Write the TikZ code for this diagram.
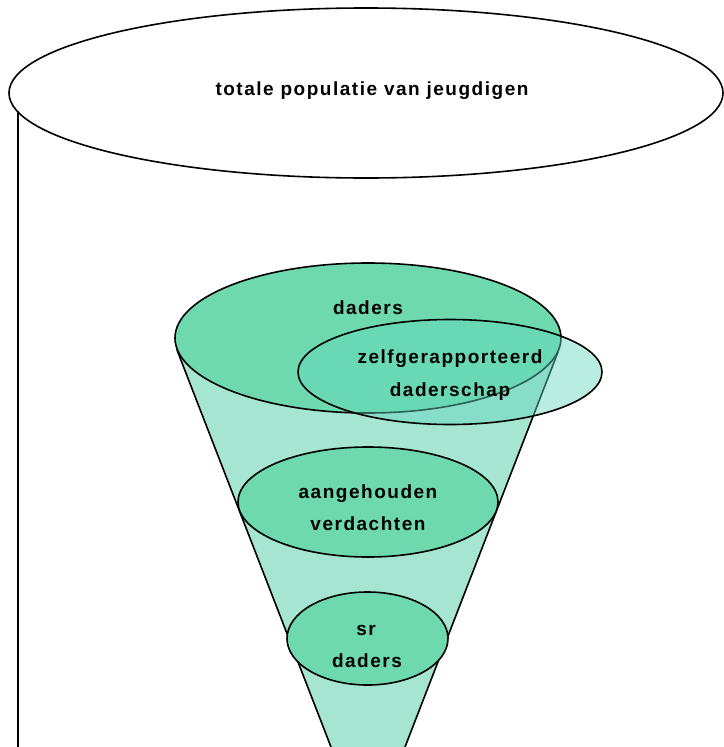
\documentclass[tikz,border=0pt]{standalone}
\usepackage{fontspec}
\setmainfont{Liberation Sans}[LetterSpace=8]
\usetikzlibrary{shapes.geometric}
\definecolor{dadersfill}{RGB}{110,217,175}
\definecolor{zelffill}{RGB}{100,215,190}
\definecolor{conefill}{RGB}{165,229,210}
\tikzset{
  lbl/.style={font=\fontsize{19}{21}\selectfont\bfseries, anchor=base, inner sep=0pt},
  ell/.style={ellipse, draw=black, line width=1.6pt, inner sep=0pt},
  edge/.style={line width=1.6pt},
}
\begin{document}
\begin{tikzpicture}[x=1pt,y=-1pt]
\useasboundingbox (0,0) rectangle (723,747);
% big population ellipse
\node[ell, fill=white, minimum width=714pt, minimum height=170pt] (pop) at (366,93) {};
\coordinate (popL) at (18,111);
\coordinate (popB) at (18,747);
\draw[edge] (popL) -- (popB);
\node[lbl] (poptxt) at (372,95) {totale populatie van jeugdigen};
% funnel
\coordinate (c1) at (177,350);
\coordinate (c2) at (558,352);
\coordinate (c3) at (405,747);
\coordinate (c4) at (331,747);
\fill[conefill] (c1) -- (c2) -- (c3) -- (c4) -- cycle;
\draw[edge] (c1) -- (c4) (c2) -- (c3);
% ellipses
\node[ell, fill=dadersfill, minimum width=386pt, minimum height=150pt] (daders) at (368,338) {};
\node[ell, fill=zelffill, fill opacity=0.45, minimum width=304pt, minimum height=105pt] (zelf) at (450,372) {};
\node[ell, fill=dadersfill, minimum width=260pt, minimum height=110pt] (aang) at (368,502) {};
\node[ell, fill=dadersfill, minimum width=161pt, minimum height=93pt] (sr) at (367.5,638.5) {};
% labels
\node[lbl] (t1) at (368,314) {daders};
\node[lbl] (t2) at (450,363) {zelfgerapporteerd};
\node[lbl] (t3) at (450,396) {daderschap};
\node[lbl] (t4) at (368,498) {aangehouden};
\node[lbl] (t5) at (368,530) {verdachten};
\node[lbl] (t6) at (366,635) {sr};
\node[lbl] (t7) at (367,667) {daders};
\end{tikzpicture}
\end{document}
